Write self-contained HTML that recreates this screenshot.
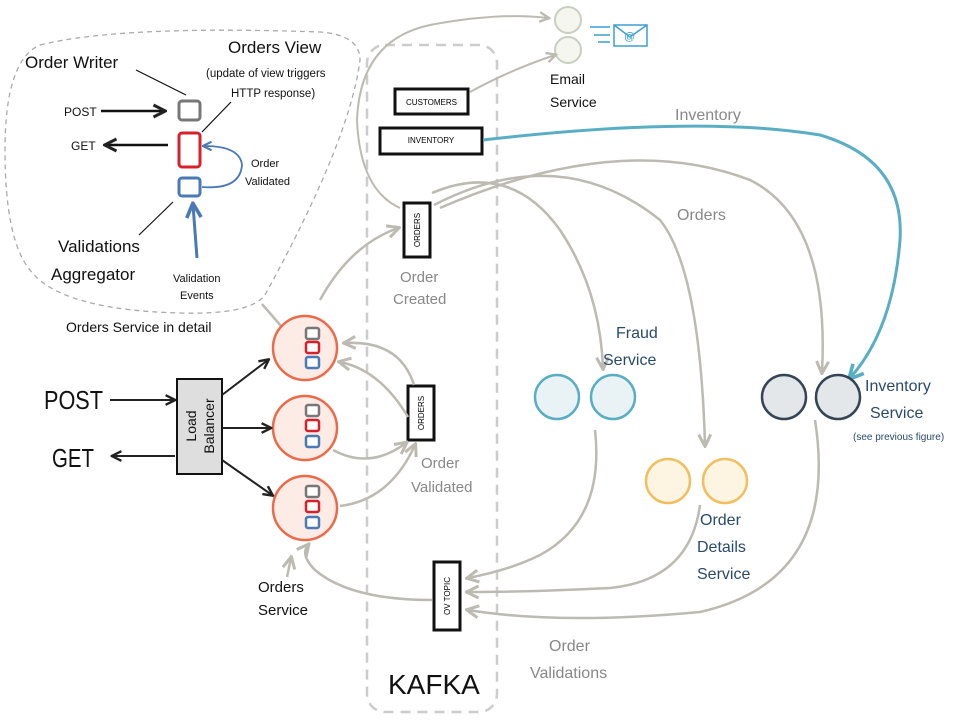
<!DOCTYPE html>
<html><head><meta charset="utf-8"><style>
html,body{margin:0;padding:0;background:#fff}
svg{display:block}
text{font-family:"Liberation Sans",sans-serif}
</style></head><body>
<svg width="975" height="721" viewBox="0 0 975 721" xmlns="http://www.w3.org/2000/svg">
<defs>
<marker id="ag" viewBox="0 0 10 10" refX="8" refY="5" markerWidth="6" markerHeight="6" orient="auto-start-reverse"><path d="M1,1 L9,5 L1,9" fill="none" stroke="#bdbab2" stroke-width="2"/></marker>
<marker id="ak" viewBox="0 0 10 10" refX="8" refY="5" markerWidth="6" markerHeight="6" orient="auto-start-reverse"><path d="M1,1 L9,5 L1,9" fill="none" stroke="#222" stroke-width="2"/></marker>
<marker id="ab" viewBox="0 0 10 10" refX="8" refY="5" markerWidth="6" markerHeight="6" orient="auto-start-reverse"><path d="M1,1 L9,5 L1,9" fill="none" stroke="#4a7ab5" stroke-width="2"/></marker>
<marker id="at" viewBox="0 0 10 10" refX="8" refY="5" markerWidth="6" markerHeight="6" orient="auto-start-reverse"><path d="M1,1 L9,5 L1,9" fill="none" stroke="#5aaec4" stroke-width="2"/></marker>
</defs>

<path d="M40,45 Q120,25 320,32 Q360,35 360,60 Q350,140 265,295 Q250,315 180,313 Q60,310 30,270 Q5,240 5,150 Q5,60 40,45 Z" fill="none" stroke="#aaa" stroke-width="1.3" stroke-dasharray="5,4"/>
<text x="25" y="68" font-size="17" fill="#111">Order Writer</text>
<text x="228" y="53" font-size="17" fill="#111">Orders View</text>
<text x="206" y="77" font-size="11.5" fill="#111">(update of view triggers</text>
<text x="231" y="97" font-size="11.5" fill="#111">HTTP response)</text>
<line x1="136" y1="70" x2="186" y2="95" stroke="#111" stroke-width="1.2"/>
<line x1="231" y1="102" x2="202" y2="132" stroke="#111" stroke-width="1.2"/>
<text x="64" y="116" font-size="12" fill="#111">POST</text>
<line x1="101" y1="111" x2="164" y2="111" stroke="#111" stroke-width="2.5" marker-end="url(#ak)"/>
<text x="71" y="150" font-size="12" fill="#111">GET</text>
<line x1="168" y1="145" x2="106" y2="145" stroke="#111" stroke-width="2.5" marker-end="url(#ak)"/>
<rect x="179" y="101" width="21" height="19" rx="3" fill="#fff" stroke="#777" stroke-width="3"/>
<rect x="179" y="133" width="21" height="34" rx="3" fill="#fff" stroke="#d8202a" stroke-width="3"/>
<rect x="179" y="178" width="21" height="18" rx="3" fill="#fff" stroke="#4a7ab5" stroke-width="3"/>
<path d="M202,187 Q240,190 242,165 Q240,146 204,146" fill="none" stroke="#4a7ab5" stroke-width="1.8" marker-end="url(#ab)"/>
<text x="251" y="167" font-size="11" fill="#111">Order</text>
<text x="245" y="185" font-size="11" fill="#111">Validated</text>
<line x1="173" y1="202" x2="139" y2="235" stroke="#111" stroke-width="1.2"/>
<line x1="197" y1="258" x2="193" y2="205" stroke="#4a7ab5" stroke-width="3" marker-end="url(#ab)"/>
<text x="58" y="252" font-size="17" fill="#111">Validations</text>
<text x="51" y="280" font-size="17" fill="#111">Aggregator</text>
<text x="173" y="282" font-size="11" fill="#111">Validation</text>
<text x="180" y="299" font-size="11" fill="#111">Events</text>
<text x="66" y="332" font-size="14" fill="#111">Orders Service in detail</text>
<line x1="262" y1="304" x2="288" y2="334" stroke="#bdbab2" stroke-width="2.5" marker-end="url(#ag)"/>

<rect x="367" y="45" width="130" height="667" rx="18" fill="none" stroke="#ccc" stroke-width="2.5" stroke-dasharray="10,7"/>
<text x="388" y="694" font-size="28" fill="#111">KAFKA</text>
<rect x="395" y="89" width="73" height="25" fill="#fff" stroke="#111" stroke-width="3"/>
<text x="431.5" y="105" font-size="8" text-anchor="middle">CUSTOMERS</text>
<rect x="380" y="128" width="102" height="26" fill="#fff" stroke="#111" stroke-width="3"/>
<text x="431" y="143" font-size="8" text-anchor="middle">INVENTORY</text>
<rect x="404" y="203" width="26" height="54" fill="#fff" stroke="#111" stroke-width="3"/>
<text transform="translate(420,230) rotate(-90)" font-size="8" text-anchor="middle">ORDERS</text>
<rect x="408" y="386" width="26" height="54" fill="#fff" stroke="#111" stroke-width="3"/>
<text transform="translate(424,413) rotate(-90)" font-size="8" text-anchor="middle">ORDERS</text>
<rect x="434" y="562" width="26" height="68" fill="#fff" stroke="#111" stroke-width="3"/>
<text transform="translate(450,596) rotate(-90)" font-size="8" text-anchor="middle">OV TOPIC</text>
<text x="400" y="282" font-size="15" fill="#888">Order</text>
<text x="393" y="304" font-size="15" fill="#888">Created</text>
<text x="421" y="468" font-size="15" fill="#888">Order</text>
<text x="411" y="492" font-size="15" fill="#888">Validated</text>

<circle cx="568" cy="20" r="13" fill="#f4f6ef" stroke="#c8cfbf" stroke-width="2"/>
<circle cx="568" cy="50" r="13" fill="#f4f6ef" stroke="#c8cfbf" stroke-width="2"/>
<line x1="590" y1="27" x2="610" y2="27" stroke="#3aa0d0" stroke-width="1.5"/>
<line x1="594" y1="35" x2="610" y2="35" stroke="#3aa0d0" stroke-width="1.5"/>
<line x1="598" y1="42" x2="610" y2="42" stroke="#3aa0d0" stroke-width="1.5"/>
<rect x="614" y="25" width="33" height="21" fill="#fff" stroke="#3aa0d0" stroke-width="1.5"/>
<path d="M614,25 L630,37 L647,25" fill="none" stroke="#3aa0d0" stroke-width="1.5"/>
<text x="624" y="40" font-size="11" fill="#3aa0d0">@</text>
<text x="550" y="84" font-size="14" fill="#111">Email</text>
<text x="550" y="107" font-size="14" fill="#111">Service</text>
<path d="M470,92 Q510,70 555,55" fill="none" stroke="#bdbab2" stroke-width="2" marker-end="url(#ag)"/>
<path d="M400,208 Q360,190 357,120 Q360,40 430,25 Q500,12 548,18" fill="none" stroke="#bdbab2" stroke-width="2" marker-end="url(#ag)"/>

<text x="675" y="120" font-size="16" fill="#888">Inventory</text>
<path d="M483,140 Q700,115 820,135 Q905,160 900,240 Q893,330 850,378" fill="none" stroke="#5aaec4" stroke-width="3" marker-end="url(#at)"/>
<text x="677" y="220" font-size="16" fill="#888">Orders</text>
<path d="M432,193 Q510,160 560,230 Q600,290 603,368" fill="none" stroke="#bdbab2" stroke-width="2.5" marker-end="url(#ag)"/>
<path d="M434,205 Q560,140 660,220 Q700,270 705,445" fill="none" stroke="#bdbab2" stroke-width="2.5" marker-end="url(#ag)"/>
<path d="M440,208 Q620,130 750,180 Q830,220 822,372" fill="none" stroke="#bdbab2" stroke-width="2.5" marker-end="url(#ag)"/>
<path d="M320,300 Q350,245 398,228" fill="none" stroke="#bdbab2" stroke-width="2.5" marker-end="url(#ag)"/>

<circle cx="557" cy="397" r="22" fill="#e9f3f5" stroke="#5aaec4" stroke-width="2.5"/>
<circle cx="613" cy="397" r="22" fill="#e9f3f5" stroke="#5aaec4" stroke-width="2.5"/>
<text x="616" y="338" font-size="16" fill="#2a4a6a">Fraud</text>
<text x="603" y="365" font-size="16" fill="#2a4a6a">Service</text>
<circle cx="668" cy="481" r="22" fill="#fdf5e2" stroke="#f0c060" stroke-width="2.5"/>
<circle cx="725" cy="481" r="22" fill="#fdf5e2" stroke="#f0c060" stroke-width="2.5"/>
<text x="700" y="525" font-size="16" fill="#2a4a6a">Order</text>
<text x="697" y="552" font-size="16" fill="#2a4a6a">Details</text>
<text x="697" y="579" font-size="16" fill="#2a4a6a">Service</text>
<circle cx="784" cy="397" r="22" fill="#e4e7ea" stroke="#354555" stroke-width="2.5"/>
<circle cx="838" cy="397" r="22" fill="#e4e7ea" stroke="#354555" stroke-width="2.5"/>
<text x="865" y="391" font-size="16" fill="#2a4a6a">Inventory</text>
<text x="870" y="418" font-size="16" fill="#2a4a6a">Service</text>
<text x="853" y="440" font-size="10" fill="#2a4a6a">(see previous figure)</text>

<path d="M595,430 Q605,520 540,555 Q510,570 468,578" fill="none" stroke="#bdbab2" stroke-width="2.5" marker-end="url(#ag)"/>
<path d="M700,505 Q690,580 610,588 Q530,592 468,592" fill="none" stroke="#bdbab2" stroke-width="2.5" marker-end="url(#ag)"/>
<path d="M815,420 Q840,580 700,612 Q560,625 468,610" fill="none" stroke="#bdbab2" stroke-width="2.5" marker-end="url(#ag)"/>
<text x="549" y="651" font-size="16" fill="#888">Order</text>
<text x="530" y="678" font-size="16" fill="#888">Validations</text>

<path d="M432,600 Q350,600 315,570 Q300,555 308,545" fill="none" stroke="#bdbab2" stroke-width="2.5" marker-end="url(#ag)"/>
<path d="M414,385 Q400,340 345,343" fill="none" stroke="#bdbab2" stroke-width="2.5" marker-end="url(#ag)"/>
<path d="M408,417 Q380,370 340,362" fill="none" stroke="#bdbab2" stroke-width="2.5" marker-end="url(#ag)"/>
<path d="M333,450 Q370,470 406,443" fill="none" stroke="#bdbab2" stroke-width="2.5" marker-end="url(#ag)"/>
<path d="M340,506 Q390,500 415,445" fill="none" stroke="#bdbab2" stroke-width="2.5" marker-end="url(#ag)"/>

<g>
<circle cx="305" cy="348" r="32" fill="#fdebe6" stroke="#ec6a4a" stroke-width="2.5"/>
<rect x="306" y="328" width="13" height="11" rx="2" fill="#fff" stroke="#777" stroke-width="2.5"/>
<rect x="306" y="342" width="13" height="11" rx="2" fill="#fff" stroke="#d8202a" stroke-width="2.5"/>
<rect x="306" y="357" width="13" height="11" rx="2" fill="#fff" stroke="#4a7ab5" stroke-width="2.5"/>
<circle cx="305" cy="428" r="32" fill="#fdebe6" stroke="#ec6a4a" stroke-width="2.5"/>
<rect x="306" y="405" width="13" height="11" rx="2" fill="#fff" stroke="#777" stroke-width="2.5"/>
<rect x="306" y="420" width="13" height="11" rx="2" fill="#fff" stroke="#d8202a" stroke-width="2.5"/>
<rect x="306" y="436" width="13" height="11" rx="2" fill="#fff" stroke="#4a7ab5" stroke-width="2.5"/>
<circle cx="305" cy="508" r="32" fill="#fdebe6" stroke="#ec6a4a" stroke-width="2.5"/>
<rect x="306" y="486" width="13" height="11" rx="2" fill="#fff" stroke="#777" stroke-width="2.5"/>
<rect x="306" y="501" width="13" height="11" rx="2" fill="#fff" stroke="#d8202a" stroke-width="2.5"/>
<rect x="306" y="517" width="13" height="11" rx="2" fill="#fff" stroke="#4a7ab5" stroke-width="2.5"/>
</g>
<line x1="287" y1="577" x2="291" y2="558" stroke="#bdbab2" stroke-width="2.5" marker-end="url(#ag)"/>
<text x="258" y="592" font-size="15" fill="#111">Orders</text>
<text x="258" y="615" font-size="15" fill="#111">Service</text>

<rect x="177" y="379" width="45" height="95" fill="#dedede" stroke="#111" stroke-width="2"/>
<text transform="translate(196,426) rotate(-90)" font-size="14" text-anchor="middle" fill="#111">Load</text>
<text transform="translate(214,426) rotate(-90)" font-size="14" text-anchor="middle" fill="#111">Balancer</text>
<line x1="222" y1="395" x2="268" y2="360" stroke="#222" stroke-width="2" marker-end="url(#ak)"/>
<line x1="222" y1="428" x2="270" y2="428" stroke="#222" stroke-width="2" marker-end="url(#ak)"/>
<line x1="222" y1="460" x2="272" y2="495" stroke="#222" stroke-width="2" marker-end="url(#ak)"/>
<text x="44" y="409" font-size="26" fill="#111" textLength="59" lengthAdjust="spacingAndGlyphs">POST</text>
<line x1="110" y1="400" x2="174" y2="400" stroke="#222" stroke-width="2" marker-end="url(#ak)"/>
<text x="52" y="467" font-size="26" fill="#111" textLength="42" lengthAdjust="spacingAndGlyphs">GET</text>
<line x1="175" y1="456" x2="113" y2="456" stroke="#222" stroke-width="2" marker-end="url(#ak)"/>
</svg>
</body></html>
